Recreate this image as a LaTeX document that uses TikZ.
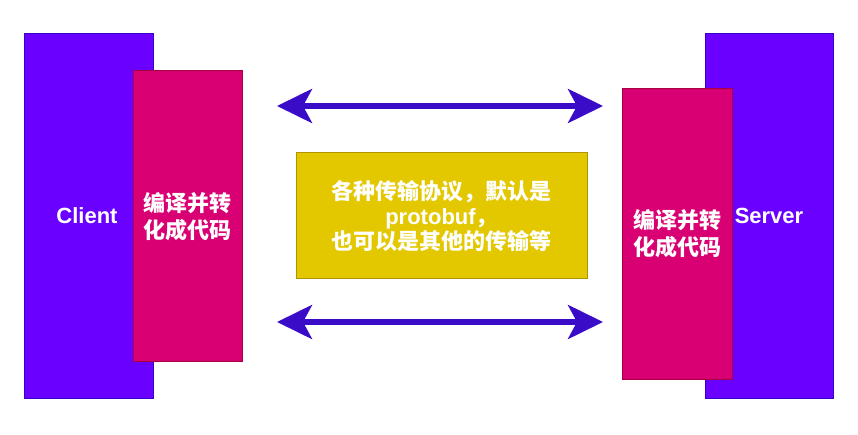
\documentclass[tikz,border=0pt]{standalone}
\usepackage{fontspec}
\setmainfont{Liberation Sans}
\newfontfamily\cjk{Noto Sans CJK SC}
\usetikzlibrary{arrows.meta}
\definecolor{cviolet}{HTML}{6A00FF}
\definecolor{cvioletd}{HTML}{3700CC}
\definecolor{cpink}{HTML}{D80073}
\definecolor{cpinkd}{HTML}{A50040}
\definecolor{cyel}{HTML}{E3C800}
\definecolor{cyeld}{HTML}{B09500}
\definecolor{carrow}{HTML}{3A0CC8}
\tikzset{
  side/.style={draw=cvioletd, fill=cviolet, line width=1pt},
  codec/.style={draw=cpinkd, fill=cpink, line width=1pt},
  proto/.style={draw=cyeld, fill=cyel, line width=1pt},
  lbl/.style={text=white, font=\fontsize{22}{27}\selectfont\bfseries, align=center, inner sep=0pt},
  clbl/.style={text=white, font=\fontsize{22}{27}\selectfont\cjk\bfseries, align=center, inner sep=0pt},
  link/.style={draw=carrow, line width=5.5pt, {Stealth[length=35pt,width=34pt,inset=9pt]}-{Stealth[length=35pt,width=34pt,inset=9pt]}}
}
\begin{document}
\begin{tikzpicture}[x=1pt,y=-1pt]
\useasboundingbox (0,0) rectangle (858,435);
% client side
\node[side, minimum width=129pt, minimum height=364pt, anchor=north west] (client) at (23.5,33.5) {};
\node[codec, minimum width=109pt, minimum height=291pt, anchor=north west] (cc) at (133,70) {};
\node[lbl] (clientt) at (87,216) {Client};
\node[clbl] (cct) at (187.5,217) {编译并转\\化成代码};
% server side
\node[side, minimum width=128pt, minimum height=364pt, anchor=north west] (server) at (705,33.5) {};
\node[codec, minimum width=110pt, minimum height=291pt, anchor=north west] (sc) at (622,88) {};
\node[lbl] (servert) at (769,216) {Server};
\node[clbl] (sct) at (677,234) {编译并转\\化成代码};
% middle
\node[proto, minimum width=291pt, minimum height=126pt, anchor=north west] (mid) at (296,152) {};
\node[clbl, font=\fontsize{22}{25}\selectfont\cjk\bfseries] (midt) at (441.5,216) {各种传输协议，默认是\\{\fontspec{Liberation Sans}\bfseries protobuf}，\\也可以是其他的传输等};
% arrows
\coordinate (a1l) at (277,106);
\coordinate (a1r) at (603,106);
\coordinate (a2l) at (277,322);
\coordinate (a2r) at (603,322);
\draw[link] (a1l) -- (a1r);
\draw[link] (a2l) -- (a2r);
\end{tikzpicture}
\end{document}
